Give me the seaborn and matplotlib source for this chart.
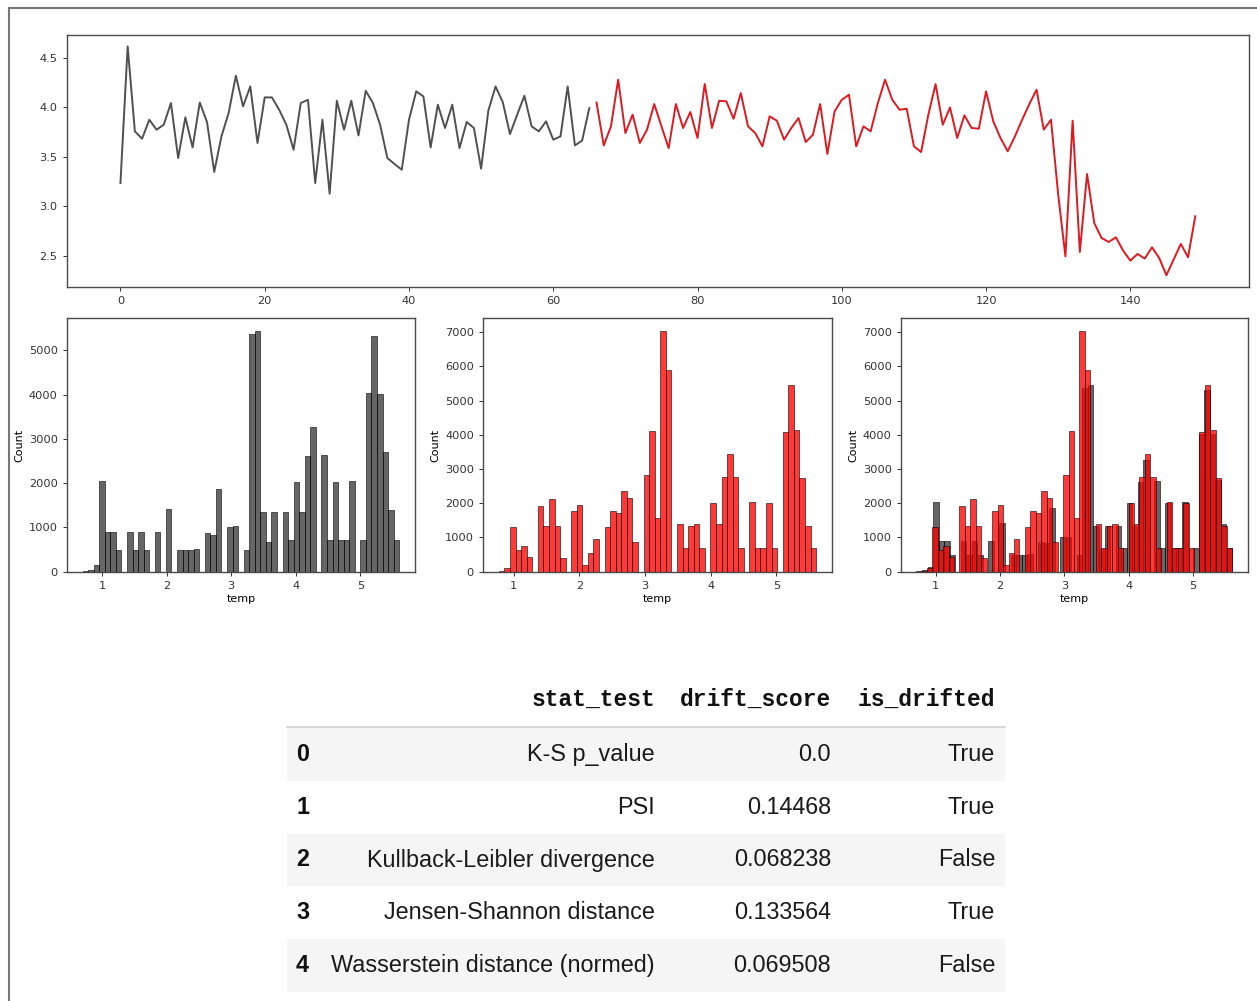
import numpy as np
import pandas as pd
import matplotlib
matplotlib.use("Agg")
import matplotlib.pyplot as plt
import seaborn as sns
from matplotlib.patches import Rectangle
from matplotlib.lines import Line2D

# temperature series (reference part then current part)
temp_series = [
    3.235, 4.618, 3.758, 3.684, 3.876, 3.775, 3.825, 4.045, 3.488, 3.900,
    3.596, 4.050, 3.853, 3.347, 3.707, 3.944, 4.321, 4.011, 4.213, 3.640,
    4.102, 4.102, 3.977, 3.825, 3.573, 4.045, 4.078, 3.235, 3.876, 3.127,
    4.068, 3.775, 4.068, 3.717, 4.169, 4.045, 3.825, 3.488, 3.427, 3.370,
    3.876, 4.163, 4.112, 3.596, 4.028, 3.792, 4.028, 3.589, 3.853, 3.792,
    3.380, 3.967, 4.213, 4.055, 3.731, 3.927, 4.119, 3.809, 3.758, 3.859,
    3.674, 3.707, 4.213, 3.616, 3.664, 3.994,
    4.050, 3.616, 3.809, 4.281, 3.741, 3.927, 3.640, 3.775, 4.035, 3.809,
    3.589, 4.035, 3.792, 3.954, 3.691, 4.237, 3.792, 4.068, 4.062, 3.886,
    4.146, 3.809, 3.741, 3.606, 3.910, 3.866, 3.674, 3.792, 3.893, 3.650,
    3.724, 4.035, 3.529, 3.960, 4.078, 4.129, 3.606, 3.809, 3.758, 4.045,
    4.281, 4.078, 3.977, 3.987, 3.606, 3.549, 3.927, 4.237, 3.825, 4.000,
    3.691, 3.920, 3.792, 3.785, 4.163, 3.859, 3.691, 3.556, 3.707, 3.876,
    4.035, 4.180, 3.775, 3.876, 3.117, 2.493, 3.866, 2.537, 3.326, 2.830,
    2.679, 2.638, 2.685, 2.551, 2.449, 2.517, 2.470, 2.584, 2.476, 2.301,
    2.460, 2.618, 2.483, 2.898,
]
n_reference = 66  # first 66 points are the reference window

# histogram counts per bin
ref_counts = [
    10, 40, 140, 2050, 895, 895, 481, 0, 895, 481, 895, 481, 0, 895, 0,
    1414, 0, 481, 481, 481, 504, 0, 872, 835, 1872, 0, 1000, 1022, 0, 481,
    5368, 5444, 1338, 662, 1338, 0, 1338, 707, 2015, 1338, 2617, 3263, 0,
    2639, 707, 2015, 707, 707, 2037, 0, 707, 4030, 5323, 4015, 2692, 1398, 707,
]
cur_counts = [
    30, 100, 1318, 635, 762, 440, 0, 1924, 1338, 2129, 1338, 410, 0, 1787,
    1953, 195, 537, 947, 0, 1318, 1787, 1709, 2363, 2148, 879, 0, 2832, 4101,
    1562, 7050, 5908, 0, 1387, 703, 1348, 1387, 684, 0, 2021, 1387, 2764,
    3447, 2764, 703, 0, 2050, 684, 684, 2002, 684, 0, 4072, 5469, 4150, 2734,
    1348, 684,
]
ref_bin_start, ref_bin_width = 0.699, 0.086
cur_bin_start, cur_bin_width = 0.774, 0.0848

# drift report table
row_index = ["0", "1", "2", "3", "4"]
stat_test = ["K-S p_value", "PSI", "Kullback-Leibler divergence",
             "Jensen-Shannon distance", "Wasserstein distance (normed)"]
drift_score = ["0.0", "0.14468", "0.068238", "0.133564", "0.069508"]
is_drifted = ["True", "True", "False", "True", "False"]
columns = ["stat_test", "drift_score", "is_drifted"]


def make_hist_df(counts, start, width):
    edges = np.linspace(start, start + width * len(counts), len(counts) + 1)
    centers = edges[:-1] + width / 2
    return pd.DataFrame({"temp": centers, "count": counts}), edges.tolist()


df_ref, edges_ref = make_hist_df(ref_counts, ref_bin_start, ref_bin_width)
df_cur, edges_cur = make_hist_df(cur_counts, cur_bin_start, cur_bin_width)

plt.rcParams.update({
    "font.family": ["DejaVu Sans"],
    "font.size": 8,
    "axes.linewidth": 1.0,
    "axes.edgecolor": "#4a4a4a",
    "xtick.major.size": 3,
    "ytick.major.size": 3,
    "xtick.major.width": 0.7,
    "ytick.major.width": 0.7,
    "xtick.labelsize": 8.2,
    "ytick.labelsize": 8.2,
    "axes.labelsize": 8,
    "xtick.color": "#333333",
    "ytick.color": "#333333",
})

W, H = 1257, 1001
fig = plt.figure(figsize=(W / 100, H / 100), dpi=100)


def px_rect(l, t, r, b):
    return [l / W, 1 - b / H, (r - l) / W, (b - t) / H]


def fx(x):
    return x / W


def fy(y):
    return 1 - y / H


# frame around the screenshot
fig.add_artist(Line2D([fx(9), fx(9)], [fy(8), 0], color="#777777", lw=1.5))
fig.add_artist(Line2D([fx(9), 1], [fy(8), fy(8)], color="#777777", lw=1.5))

# time series
ax0 = fig.add_axes(px_rect(66.7, 35, 1249, 286.7))
idx = np.arange(len(temp_series))
vals = np.array(temp_series)
sns.lineplot(x=idx[:n_reference], y=vals[:n_reference], color="#505050",
             lw=1.4, ax=ax0)
sns.lineplot(x=idx[n_reference:], y=vals[n_reference:], color="#dc1a22",
             lw=1.4, ax=ax0)
ax0.set_xlabel("")
ax0.set_ylabel("")

# histograms
ax1 = fig.add_axes(px_rect(66.7, 318.5, 415, 571.7))
ax2 = fig.add_axes(px_rect(483, 318.5, 832, 571.7))
ax3 = fig.add_axes(px_rect(900.7, 318.5, 1248, 571.7))

sns.histplot(data=df_ref, x="temp", weights="count", bins=edges_ref,
             color="black", alpha=0.6, ax=ax1)
sns.histplot(data=df_cur, x="temp", weights="count", bins=edges_cur,
             color="red", alpha=0.78, ax=ax2)
sns.histplot(data=df_ref, x="temp", weights="count", bins=edges_ref,
             color="black", alpha=0.6, ax=ax3)
sns.histplot(data=df_cur, x="temp", weights="count", bins=edges_cur,
             color="red", alpha=0.78, ax=ax3)
for ax in (ax1, ax2, ax3):
    ax.xaxis.labelpad = 2
    ax.yaxis.labelpad = 3

# table
tbl_left, tbl_right = 287, 1005
row_h = 52.8
first_row_top = 728
for i in range(len(stat_test)):
    top = first_row_top + i * row_h
    if i % 2 == 0:
        fig.patches.append(Rectangle((fx(tbl_left), fy(top + row_h)),
                                     (tbl_right - tbl_left) / W, row_h / H,
                                     transform=fig.transFigure,
                                     facecolor="#f5f5f5", edgecolor="none"))
fig.add_artist(Line2D([fx(tbl_left), fx(tbl_right)], [fy(727), fy(727)],
                      color="#d0d0d0", lw=1.2))

col_right = [655, 831, 995]
header_y = 699
for name, xr in zip(columns, col_right):
    fig.text(fx(xr), fy(header_y), name, ha="right", va="center",
             family="Liberation Mono", weight="bold", fontsize=16.5,
             color="#111111")

body_font = dict(family="Liberation Sans", fontsize=16.8, color="#1a1a1a")
for i in range(len(stat_test)):
    yc = first_row_top + i * row_h + row_h / 2
    fig.text(fx(296), fy(yc), row_index[i], ha="left", va="center",
             family="Liberation Sans", weight="bold", fontsize=16.8,
             color="#111111")
    for vals_col, xr in zip((stat_test, drift_score, is_drifted), col_right):
        fig.text(fx(xr), fy(yc), vals_col[i], ha="right", va="center",
                 **body_font)

fig.savefig("out.png", dpi=100)
